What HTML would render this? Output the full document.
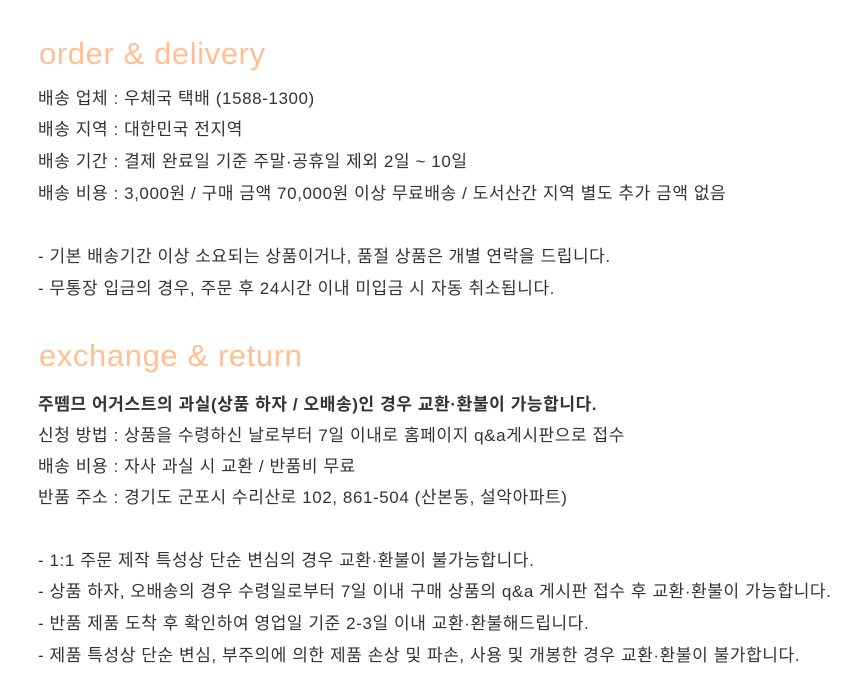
<!DOCTYPE html>
<html><head><meta charset="utf-8"><style>
body{margin:0;width:854px;height:700px;background:#fff;position:relative;overflow:hidden;font-family:"Liberation Sans","Noto Sans CJK KR",sans-serif;}
.h{position:absolute;left:39px;font-family:"Liberation Sans",sans-serif;font-size:31px;color:#ffbf94;line-height:36px;letter-spacing:0.6px}
.t{position:absolute;left:38px;font-size:17px;color:#333;line-height:22px;white-space:nowrap;letter-spacing:0.58px}
b{font-weight:bold;letter-spacing:0.6px}
</style></head><body>
<div class="h" style="top:36px">order &amp; delivery</div>
<div class="t" style="top:88px">배송 업체 : 우체국 택배 (1588-1300)</div>
<div class="t" style="top:119px">배송 지역 : 대한민국 전지역</div>
<div class="t" style="top:151px">배송 기간 : 결제 완료일 기준 주말·공휴일 제외 2일 ~ 10일</div>
<div class="t" style="top:183px">배송 비용 : 3,000원 / 구매 금액 70,000원 이상 무료배송 / 도서산간 지역 별도 추가 금액 없음</div>
<div class="t" style="top:246px">- 기본 배송기간 이상 소요되는 상품이거나, 품절 상품은 개별 연락을 드립니다.</div>
<div class="t" style="top:278px">- 무통장 입금의 경우, 주문 후 24시간 이내 미입금 시 자동 취소됩니다.</div>
<div class="h" style="top:338px">exchange &amp; return</div>
<div class="t" style="top:394px"><b>주뗌므 어거스트의 과실(상품 하자 / 오배송)인 경우 교환·환불이 가능합니다.</b></div>
<div class="t" style="top:425px">신청 방법 : 상품을 수령하신 날로부터 7일 이내로 홈페이지 q&amp;a게시판으로 접수</div>
<div class="t" style="top:456px">배송 비용 : 자사 과실 시 교환 / 반품비 무료</div>
<div class="t" style="top:487px">반품 주소 : 경기도 군포시 수리산로 102, 861-504 (산본동, 설악아파트)</div>
<div class="t" style="top:550px">- 1:1 주문 제작 특성상 단순 변심의 경우 교환·환불이 불가능합니다.</div>
<div class="t" style="top:581px">- 상품 하자, 오배송의 경우 수령일로부터 7일 이내 구매 상품의 q&amp;a 게시판 접수 후 교환·환불이 가능합니다.</div>
<div class="t" style="top:613px">- 반품 제품 도착 후 확인하여 영업일 기준 2-3일 이내 교환·환불해드립니다.</div>
<div class="t" style="top:645px">- 제품 특성상 단순 변심, 부주의에 의한 제품 손상 및 파손, 사용 및 개봉한 경우 교환·환불이 불가합니다.</div>
</body></html>
